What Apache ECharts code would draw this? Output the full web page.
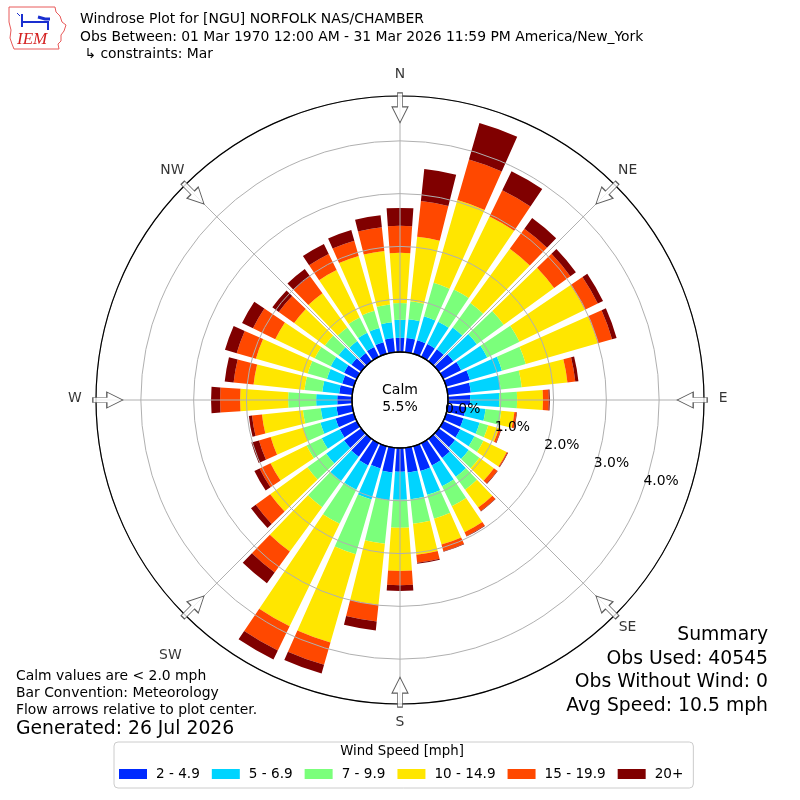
<!DOCTYPE html>
<html><head><meta charset="utf-8">
<script src="https://cdn.jsdelivr.net/npm/echarts@6.0.0/dist/echarts.min.js"></script>
<style>html,body{margin:0;padding:0;background:#fff}#c{width:800px;height:800px}</style>
</head><body><div id="c"></div>
<script>
// ---------------- data ----------------
const directions = ['0','10','20','30','40','50','60','70','80','90','100','110','120','130','140','150','160','170',
                    '180','190','200','210','220','230','240','250','260','270','280','290','300','310','320','330','340','350'];
const speedBins = ['2 - 4.9','5 - 6.9','7 - 9.9','10 - 14.9','15 - 19.9','20+'];
const binColors = ['rgb(0,42,255)','rgb(0,212,255)','rgb(123,255,123)','rgb(255,230,0)','rgb(255,72,0)','rgb(128,0,0)'];
// percent of observations per direction (N, 10, 20 ... 350)
const pct_2_4 = [0.27,0.27,0.27,0.27,0.28,0.34,0.38,0.47,0.44,0.42,0.34,0.34,0.36,0.38,0.45,0.47,0.49,0.47,
                 0.45,0.47,0.44,0.47,0.42,0.40,0.36,0.36,0.30,0.28,0.25,0.23,0.27,0.23,0.19,0.21,0.23,0.27];
const pct_5_6 = [0.34,0.36,0.47,0.47,0.51,0.55,0.55,0.63,0.57,0.55,0.38,0.32,0.30,0.32,0.44,0.44,0.47,0.51,
                 0.53,0.53,0.61,0.51,0.57,0.42,0.38,0.30,0.30,0.40,0.32,0.30,0.28,0.30,0.28,0.30,0.28,0.30];
const pct_7_9 = [0.32,0.34,0.66,0.68,0.57,0.63,0.68,0.47,0.40,0.34,0.30,0.17,0.19,0.25,0.30,0.42,0.47,0.47,
                 0.53,0.83,1.08,0.72,0.61,0.44,0.32,0.34,0.34,0.53,0.34,0.38,0.34,0.32,0.32,0.32,0.34,0.34];
const pct_10_14 = [0.95,1.23,1.63,1.54,1.27,1.18,1.38,1.42,0.87,0.49,0.25,0.21,0.49,0.34,0.42,0.55,0.51,0.59,
                   0.82,1.16,1.74,2.16,1.04,0.87,0.76,0.64,0.78,0.91,0.97,1.02,0.83,0.72,0.80,1.00,1.08,1.02];
const pct_15_19 = [0.51,0.68,0.80,0.55,0.47,0.38,0.27,0.28,0.15,0.11,0.04,0.04,0.02,0.08,0.08,0.08,0.13,0.15,
                   0.27,0.32,0.44,0.51,0.49,0.34,0.23,0.23,0.19,0.38,0.38,0.38,0.47,0.36,0.40,0.34,0.30,0.45];
const pct_20p = [0.34,0.61,0.72,0.40,0.25,0.13,0.11,0.09,0.06,0.02,0.01,0.01,0.01,0.01,0.01,0.01,0.01,0.02,
                 0.11,0.17,0.17,0.19,0.25,0.11,0.11,0.15,0.06,0.17,0.17,0.23,0.23,0.15,0.17,0.21,0.21,0.23];
const radiusTicks = [0,1,2,3,4];
const compassLabels = ['N','NE','E','SE','S','SW','W','NW'];
const compassAngles = [0,45,90,135,180,225,270,315];
const calmPct = 5.5;
const titleLines = ['Windrose Plot for [NGU] NORFOLK NAS/CHAMBER',
  'Obs Between: 01 Mar 1970 12:00 AM - 31 Mar 2026 11:59 PM America/New_York',
  ' \u21b3 constraints: Mar'];
const noteLines = ['Calm values are < 2.0 mph','Bar Convention: Meteorology','Flow arrows relative to plot center.'];
const generated = 'Generated: 26 Jul 2026';
const summaryLines = ['Summary','Obs Used: 40545','Obs Without Wind: 0','Avg Speed: 10.5 mph'];

// ---------------- layout / style ----------------
const FONT = 'DejaVu Sans';
const INNER = 48, OUTER = 304, RMAX = 4.85;
const ARROW_R = 4.626;
const RLABEL_ANGLE = 110;
const labelOffsets = {N:[0,-33],NE:[21,-23],E:[31,-2],SE:[21,21],S:[0,30],SW:[-23,49],W:[-33,-2],NW:[-21,-23]};
const allPct = [pct_2_4,pct_5_6,pct_7_9,pct_10_14,pct_15_19,pct_20p];

const chart = echarts.init(document.getElementById('c'));
const hidden = {axisLine:{show:false},axisTick:{show:false},axisLabel:{show:false},splitLine:{show:false},splitArea:{show:false}};

const barSeries = speedBins.map((name,i)=>({
  type:'bar', name, coordinateSystem:'polar', polarIndex:0, stack:'wind',
  data: allPct[i], barWidth:'80%', itemStyle:{color:binColors[i]}, z:2, silent:true
}));

const textEls = [];
titleLines.forEach((t,i)=>textEls.push({type:'text', x:80, y:[19.5,37,54][i], z:100,
  style:{text:t, font:`13.9px "${FONT}"`, fill:'#000', textVerticalAlign:'middle'}}));
noteLines.forEach((t,i)=>textEls.push({type:'text', x:16, y:676+i*17, z:100,
  style:{text:t, font:`13.9px "${FONT}"`, fill:'#000', textVerticalAlign:'middle'}}));
textEls.push({type:'text', x:16, y:729, z:100, style:{text:generated, font:`18.8px "${FONT}"`, fill:'#000', textVerticalAlign:'middle'}});
summaryLines.forEach((t,i)=>textEls.push({type:'text', x:768, y:635+i*23.7, z:100,
  style:{text:t, font:`18.8px "${FONT}"`, fill:'#000', textAlign:'right', textVerticalAlign:'middle'}}));
textEls.push({type:'text', x:400, y:399, z:100,
  style:{text:'Calm\n'+calmPct.toFixed(1)+'%', font:`14px "${FONT}"`, lineHeight:17, fill:'#000', textAlign:'center', textVerticalAlign:'middle'}});
textEls.push({type:'text', x:402, y:752, z:100,
  style:{text:'Wind Speed [mph]', font:`13.3px "${FONT}"`, fill:'#000', textAlign:'center', textVerticalAlign:'middle'}});
// IEM logo
textEls.push({type:'polyline', z:100, shape:{points:[[9,7],[55,7],[56,12],[60,16],[62,22],[66,25],[64,31],[61,35],[61,41],[58,44],[59,49],[14,49],[12,44],[10,38],[11,30],[9,22],[9,7]]},
  style:{stroke:'#e85a5a', lineWidth:1, fill:null}});
textEls.push({type:'polyline', z:100, shape:{points:[[22,14],[22,27]]}, style:{stroke:'#1a2fd0', lineWidth:2}});
textEls.push({type:'polyline', z:100, shape:{points:[[22,22],[48,22],[48,30]]}, style:{stroke:'#1a2fd0', lineWidth:2}});
textEls.push({type:'polyline', z:100, shape:{points:[[38,17],[45,19],[50,19]]}, style:{stroke:'#1a2fd0', lineWidth:3}});
textEls.push({type:'polyline', z:100, shape:{points:[[17,13],[20,16]]}, style:{stroke:'#1a2fd0', lineWidth:1}});
textEls.push({type:'text', x:17, y:40, z:100, style:{text:'IEM', font:`italic 17px "Liberation Serif"`, fill:'#d42020', textVerticalAlign:'middle'}});

const option = {
  animation:false,
  backgroundColor:'#fff',
  polar:[
    {center:['50%','50%'], radius:[INNER,OUTER]},
    {center:['50%','50%'], radius:[INNER,OUTER]},
    {center:['50%','50%'], radius:[0,INNER]}
  ],
  angleAxis:[
    Object.assign({polarIndex:0, type:'category', data:directions, startAngle:95, clockwise:true, boundaryGap:true}, hidden),
    {polarIndex:1, type:'value', min:0, max:360, interval:45, startAngle:90, clockwise:true, z:5,
     axisLine:{show:true, lineStyle:{color:'#000', width:1.2}}, axisTick:{show:false}, axisLabel:{show:false},
     splitLine:{show:true, lineStyle:{color:'#b0b0b0', width:1}}},
    {polarIndex:2, type:'value', min:0, max:360, startAngle:90, z:6,
     axisLine:{show:true, lineStyle:{color:'#000', width:1.4}}, axisTick:{show:false}, axisLabel:{show:false}, splitLine:{show:false}}
  ],
  radiusAxis:[
    Object.assign({polarIndex:0, type:'value', min:0, max:RMAX}, hidden),
    {polarIndex:1, type:'value', min:0, max:RMAX, interval:1, z:5,
     axisLine:{show:false}, axisTick:{show:false}, axisLabel:{show:false},
     splitLine:{show:true, lineStyle:{color:'#b0b0b0', width:1}}},
    Object.assign({polarIndex:2, type:'value', min:0, max:1}, hidden)
  ],
  legend:{
    data:speedBins, left:114, top:742, orient:'horizontal', icon:'rect',
    itemWidth:28, itemHeight:10, itemGap:12, padding:[25,10,7,5],
    borderColor:'#cccccc', borderWidth:1, borderRadius:4, selectedMode:false,
    textStyle:{fontFamily:FONT, fontSize:13.6, color:'#000', padding:[0,0,0,4]}
  },
  graphic:{elements:textEls},
  series:[
    ...barSeries,
    {type:'scatter', name:'arrows', coordinateSystem:'polar', polarIndex:1, silent:true, z:10,
     symbol:'path://M-2.5,-15L2.5,-15L2.5,-1L8,-1L0,15L-8,-1L-2.5,-1Z', symbolSize:[16,30],
     itemStyle:{color:'#fff', borderColor:'#333', borderWidth:1},
     data: compassAngles.map(a=>({value:[ARROW_R,a], symbolRotate:-a}))},
    {type:'scatter', name:'compass', coordinateSystem:'polar', polarIndex:1, silent:true, z:11,
     symbolSize:0.1, itemStyle:{color:'rgba(0,0,0,0)'},
     label:{show:true, position:'inside', formatter:p=>p.name, color:'#000', textBorderWidth:0, fontFamily:FONT, fontSize:13.9},
     data: compassAngles.map((a,i)=>({name:compassLabels[i], value:[ARROW_R,a], label:{offset:labelOffsets[compassLabels[i]]}}))},
    {type:'scatter', name:'rlabels', coordinateSystem:'polar', polarIndex:1, silent:true, z:20, zlevel:1,
     symbolSize:0.1, itemStyle:{color:'rgba(0,0,0,0)'},
     label:{show:true, position:[0,0], align:'left', verticalAlign:'bottom', formatter:p=>p.name,
            color:'#000', opacity:1, textBorderWidth:0, textBorderColor:'transparent', fontFamily:FONT, fontSize:13.9},
     data: radiusTicks.map(v=>({name:v.toFixed(1)+'%', value:[v,RLABEL_ANGLE]}))}
  ]
};
chart.setOption(option);
</script>
</body></html>
